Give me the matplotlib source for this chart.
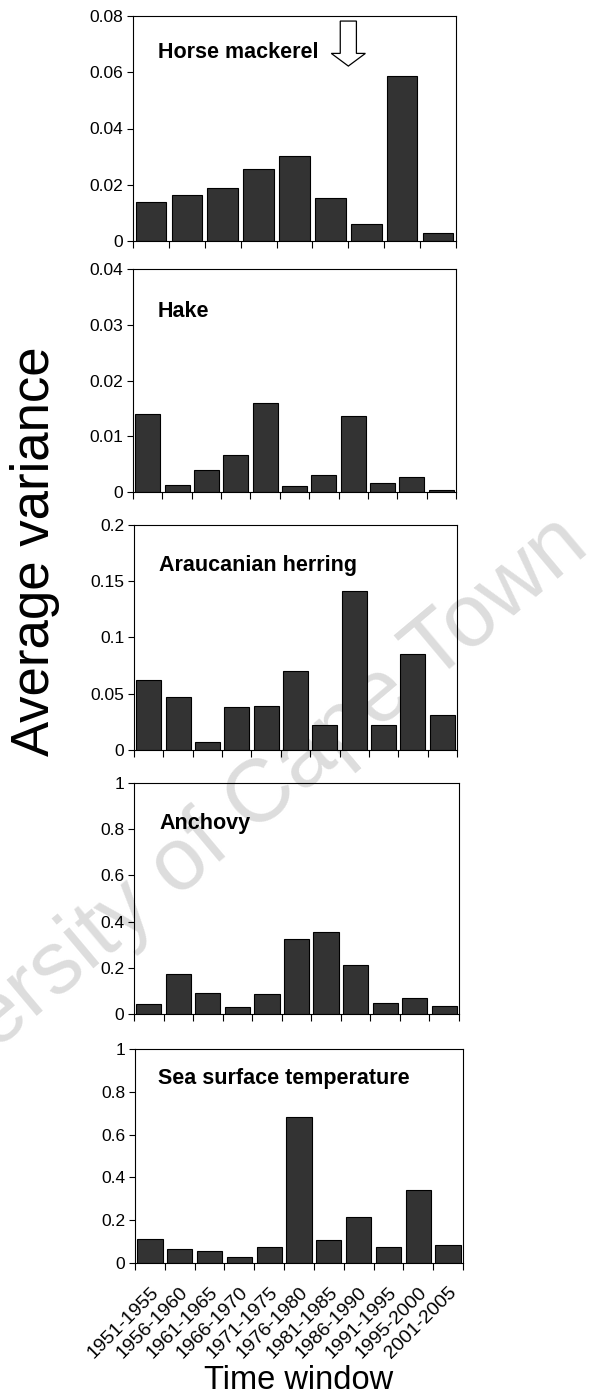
import numpy as np
import matplotlib.pyplot as plt
from matplotlib.patches import FancyArrow

plt.rcParams['font.family'] = ['Liberation Sans', 'DejaVu Sans']

windows = ['1951-1955', '1956-1960', '1961-1965', '1966-1970', '1971-1975',
           '1976-1980', '1981-1985', '1986-1990', '1991-1995', '1995-2000',
           '2001-2005']

horse_mackerel = [0.0139, 0.0165, 0.0188, 0.0255, 0.0303, 0.0152, 0.0059, 0.0586, 0.0027]
hake = [0.0140, 0.0013, 0.0039, 0.0067, 0.0160, 0.0011, 0.0031, 0.0137, 0.0017, 0.0027, 0.0004]
herring = [0.0622, 0.0474, 0.0068, 0.0382, 0.0388, 0.0705, 0.0225, 0.1416, 0.0219, 0.0850, 0.0311]
anchovy = [0.045, 0.171, 0.089, 0.030, 0.085, 0.325, 0.354, 0.212, 0.046, 0.068, 0.035]
sst = [0.114, 0.064, 0.058, 0.026, 0.073, 0.682, 0.109, 0.215, 0.073, 0.340, 0.086]

names = ['Horse mackerel', 'Hake', 'Araucanian herring', 'Anchovy', 'Sea surface temperature']
series = [horse_mackerel, hake, herring, anchovy, sst]
ymax = [0.08, 0.04, 0.2, 1, 1]
yticks = [[0, 0.02, 0.04, 0.06, 0.08],
          [0, 0.01, 0.02, 0.03, 0.04],
          [0, 0.05, 0.1, 0.15, 0.2],
          [0, 0.2, 0.4, 0.6, 0.8, 1],
          [0, 0.2, 0.4, 0.6, 0.8, 1]]

# panel boxes in pixels: left, right, top, bottom
W, H = 599, 1394
boxes = [(133, 456, 16, 241), (133, 456, 269, 492), (134, 457, 525, 750),
         (134, 459, 783, 1014), (135, 463, 1049, 1263)]
title_y = [0.836, 0.81, 0.822, 0.823, 0.864]

fig = plt.figure(figsize=(W / 100, H / 100), dpi=100)
fig.patch.set_facecolor('white')

# faint watermark behind everything
fig.text(210 / W, 1 - 840 / H, 'University of Cape Town', fontsize=64,
         color='#dddddd', rotation=40, ha='center', va='center', zorder=-1)

def fmt(v):
    return '0' if v == 0 else ('%g' % v)

for k, (vals, name) in enumerate(zip(series, names)):
    l, r, t, b = boxes[k]
    ax = fig.add_axes([l / W, 1 - b / H, (r - l) / W, (b - t) / H])
    ax.patch.set_alpha(0)
    n = len(vals)
    x = np.arange(n)
    ax.bar(x, vals, width=0.85, color='#333333', edgecolor='black', linewidth=0.8, zorder=2)
    ax.set_xlim(-0.5, n - 0.5)
    ax.set_ylim(0, ymax[k])
    ax.set_yticks(yticks[k])
    ax.set_yticklabels([fmt(v) for v in yticks[k]], fontsize=12.5)
    ax.tick_params(axis='y', direction='out', length=4, width=0.8, pad=3)
    ax.set_xticks(np.arange(n + 1) - 0.5, minor=True)
    ax.tick_params(axis='x', which='minor', direction='out', length=5, width=0.8)
    ax.set_xticks(x)
    ax.tick_params(axis='x', which='major', length=0)
    if k == len(series) - 1:
        ax.set_xticklabels(windows[:n], rotation=45, ha='right', va='top',
                           rotation_mode='anchor', fontsize=14)
        ax.tick_params(axis='x', which='major', pad=15)
        ax.set_xlabel('Time window', fontsize=23.5, labelpad=2)
    else:
        ax.set_xticklabels([])
    for s in ax.spines.values():
        s.set_linewidth(0.8)
    ax.text(0.077 if k < 4 else 0.07, title_y[k], name, transform=ax.transAxes,
            fontsize=15.5, fontweight='bold', ha='left', va='center')
    if k == 0:
        ax.add_patch(FancyArrow(5.5, 0.0782, 0, -0.016, width=0.45, head_width=0.95,
                                head_length=0.0045, length_includes_head=True,
                                fc='white', ec='black', lw=0.9, zorder=3))

fig.text(35 / W, 1 - 551 / H, 'Average variance', rotation=90, fontsize=38,
         ha='center', va='center')

fig.savefig('out.png', dpi=100)
